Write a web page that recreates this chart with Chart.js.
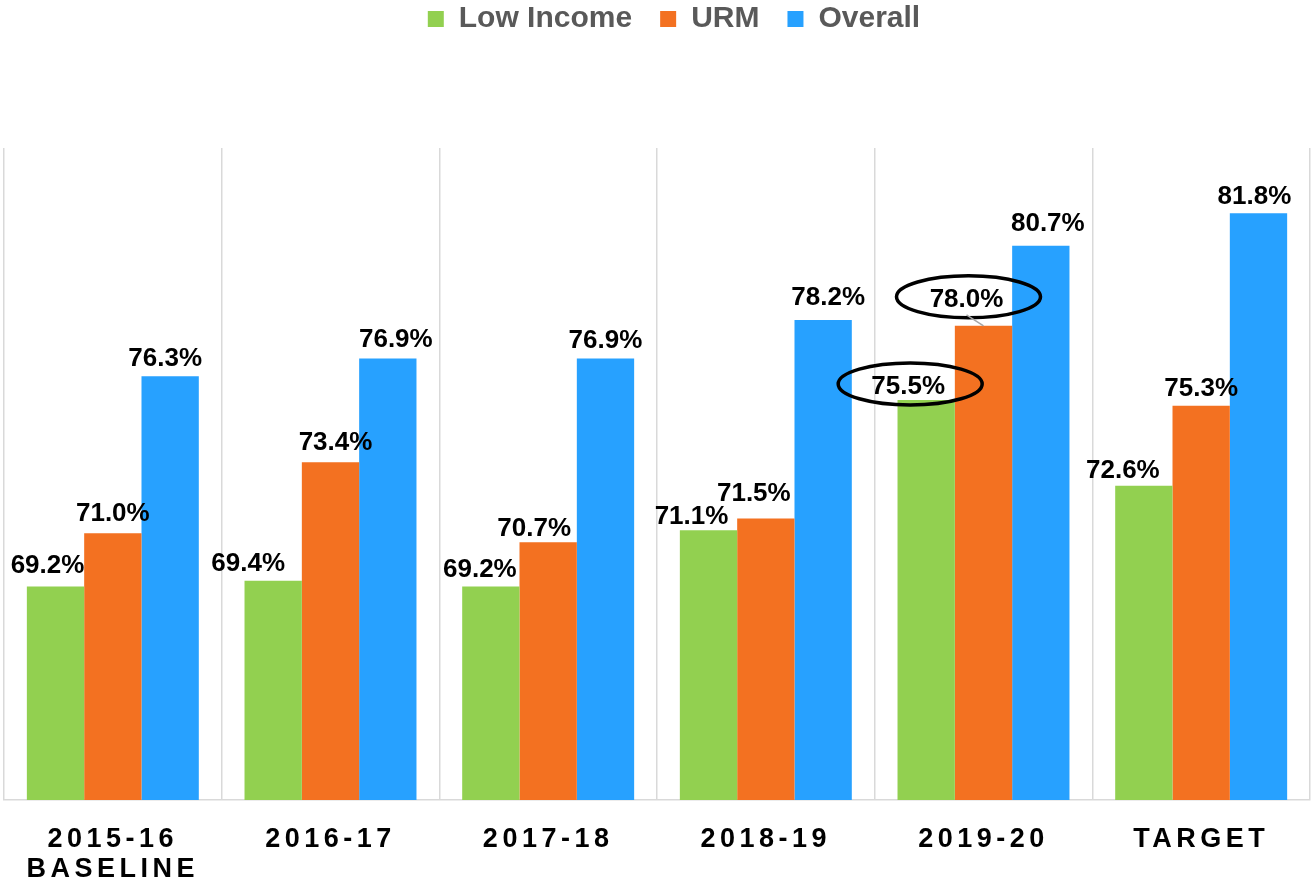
<!DOCTYPE html>
<html>
<head>
<meta charset="utf-8">
<script src="https://cdn.jsdelivr.net/npm/chart.js@4/dist/chart.umd.min.js"></script>
<style>
  body { margin: 0; background: #fff; }
  #wrap { width: 1311px; height: 889px; position: relative; }
</style>
</head>
<body>
<div id="wrap"><canvas id="c"></canvas></div>
<script>
// categories and values (percent)
const years = [["2015-16", "BASELINE"], "2016-17", "2017-18", "2018-19", "2019-20", "TARGET"];
const lowIncome = [69.2, 69.4, 69.2, 71.1, 75.5, 72.6];
const urm = [71.0, 73.4, 70.7, 71.5, 78.0, 75.3];
const overall = [76.3, 76.9, 76.9, 78.2, 80.7, 81.8];

// label nudges (px), like Excel moved some of them
const nudgeX = [
  [-8, -25, -11, -17, -18, -21],
  [0, 5, -14, -12, -17, 0],
  [-5, 8, 0, 5, 7, -4],
];
const nudgeY = [
  [-4, 0, 0, 4, 4, 2],
  [-2, -2, 4, -7, -9, 0],
  [0, -1, 0, -5, -5, 1],
];
// labels that were circled on the slide: [dataset, index]
const circled = [[0, 4], [1, 4]];

const labelFont = "bold 26px 'Liberation Sans', Arial, sans-serif";
const legendPad = 28;

const dataLabels = {
  id: "dataLabels",
  beforeDraw(chart) {
    // pull the legend row up to the top edge, and a bit right
    chart.legend.top = -(legendPad - 4);
    chart.legend.left = 4 + 34;
  },
  afterDatasetsDraw(chart) {
    const ctx = chart.ctx;
    ctx.save();
    ctx.font = labelFont;
    ctx.fillStyle = "#000";
    ctx.textAlign = "center";
    ctx.textBaseline = "alphabetic";
    const spots = {};
    chart.data.datasets.forEach((ds, i) => {
      const meta = chart.getDatasetMeta(i);
      meta.data.forEach((bar, j) => {
        const x = bar.x + nudgeX[i][j];
        const y = bar.y - 10 + nudgeY[i][j];
        ctx.fillText(ds.data[j].toFixed(1) + "%", x, y);
        spots[i + "-" + j] = { x, y, barX: bar.x, barY: bar.y };
      });
    });
    // circles round the highlighted values
    ctx.strokeStyle = "#000";
    ctx.lineWidth = 3.5;
    circled.forEach(([i, j]) => {
      const s = spots[i + "-" + j];
      ctx.beginPath();
      ctx.ellipse(s.x + 2, s.y - 10, 72, 21, 0, 0, Math.PI * 2);
      ctx.stroke();
    });
    // little leader line for the moved URM label
    const s = spots["1-4"];
    ctx.strokeStyle = "#a6a6a6";
    ctx.lineWidth = 1.5;
    ctx.beginPath();
    ctx.moveTo(s.x, s.y + 8);
    ctx.lineTo(s.barX, s.barY);
    ctx.stroke();
    ctx.restore();
    // x tick labels are drawn next (z:1), with spaced letters
    ctx.letterSpacing = "4.5px";
  },
  afterDraw(chart) {
    chart.ctx.letterSpacing = "0px";
  },
};

const legendRoom = {
  id: "legendRoom",
  beforeInit(chart) {
    const fit = chart.legend.fit;
    chart.legend.fit = function () {
      fit.bind(chart.legend)();
      this.height = 148;
    };
  },
};

new Chart(document.getElementById("c"), {
  type: "bar",
  data: {
    labels: years,
    datasets: [
      { label: "Low Income", data: lowIncome, backgroundColor: "#92D050" },
      { label: "URM", data: urm, backgroundColor: "#F37121" },
      { label: "Overall", data: overall, backgroundColor: "#27A1FF" },
    ],
  },
  options: {
    responsive: true,
    maintainAspectRatio: false,
    animation: false,
    categoryPercentage: 0.79,
    barPercentage: 1.0,
    layout: { padding: { left: 4, right: 1, top: 0, bottom: 0 } },
    scales: {
      x: {
        grid: { offset: true, color: "#d9d9d9", lineWidth: 1.5, drawTicks: false },
        border: { color: "#d9d9d9", width: 1.5 },
        ticks: {
          z: 1,
          color: "#000",
          padding: 25,
          maxRotation: 0,
          autoSkip: false,
          font: { family: "'Liberation Sans', Arial, sans-serif", size: 27, weight: "bold", lineHeight: 1.11 },
        },
        afterFit(scale) {
          scale.height = 89;
        },
      },
      y: {
        display: false,
        min: 62,
        max: 84,
      },
    },
    plugins: {
      legend: {
        position: "top",
        labels: {
          boxWidth: 16,
          boxHeight: 16,
          padding: legendPad,
          color: "#595959",
          font: { family: "'Liberation Sans', Arial, sans-serif", size: 30, weight: "bold" },
        },
      },
      tooltip: { enabled: false },
    },
  },
  plugins: [dataLabels, legendRoom],
});
</script>
</body>
</html>
